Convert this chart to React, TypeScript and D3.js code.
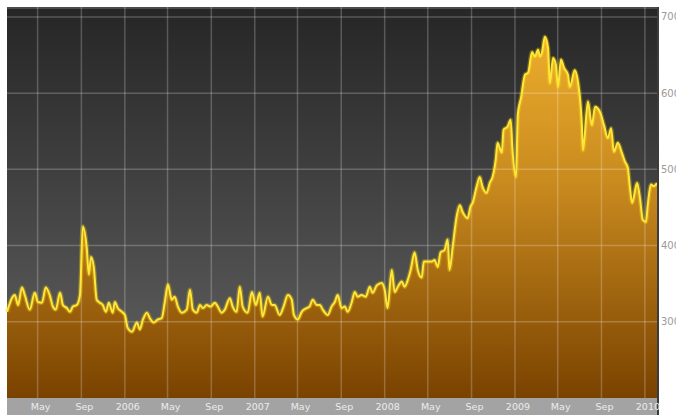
import React from "react";
import * as d3 from "d3";

// weekly-ish readings, Feb 2005 - Feb 2010
const dates = [
  "2005-02-04", "2005-02-26", "2005-03-07", "2005-03-18", "2005-03-26", "2005-04-09", "2005-04-23", "2005-05-02",
  "2005-05-13", "2005-05-24", "2005-06-04", "2005-06-13", "2005-06-21", "2005-07-03", "2005-07-11", "2005-07-22",
  "2005-07-31", "2005-08-08", "2005-08-19", "2005-08-28", "2005-09-05", "2005-09-16", "2005-09-22", "2005-09-28",
  "2005-10-06", "2005-10-14", "2005-10-23", "2005-10-31", "2005-11-09", "2005-11-17", "2005-11-28", "2005-12-04",
  "2005-12-12", "2005-12-24",
  "2006-01-01", "2006-01-09", "2006-01-21", "2006-02-04", "2006-02-12", "2006-02-21", "2006-03-04", "2006-03-12",
  "2006-03-23", "2006-04-04", "2006-04-15", "2006-04-23", "2006-05-02", "2006-05-13", "2006-05-21", "2006-05-30",
  "2006-06-10", "2006-06-24", "2006-07-03", "2006-07-11", "2006-07-22", "2006-07-31", "2006-08-08", "2006-08-19",
  "2006-08-30", "2006-09-11", "2006-09-19", "2006-09-30", "2006-10-09", "2006-10-23", "2006-10-31", "2006-11-11",
  "2006-11-20", "2006-11-28", "2006-12-12", "2006-12-24",
  "2007-01-04", "2007-01-15", "2007-01-23", "2007-02-07", "2007-02-18", "2007-02-26", "2007-03-12", "2007-03-23",
  "2007-04-04", "2007-04-15", "2007-04-21", "2007-05-02", "2007-05-13", "2007-05-27", "2007-06-04", "2007-06-13",
  "2007-06-24", "2007-07-03", "2007-07-11", "2007-07-25", "2007-08-05", "2007-08-14", "2007-08-22", "2007-09-02",
  "2007-09-11", "2007-09-19", "2007-09-30", "2007-10-09", "2007-10-17", "2007-10-28", "2007-11-09", "2007-11-20",
  "2007-11-28", "2007-12-10", "2007-12-24",
  "2008-01-01", "2008-01-09", "2008-01-21", "2008-01-29", "2008-02-07", "2008-02-18", "2008-02-26", "2008-03-06",
  "2008-03-14", "2008-03-25", "2008-04-03", "2008-04-14", "2008-04-20", "2008-05-01", "2008-05-12", "2008-05-20",
  "2008-05-29", "2008-06-06", "2008-06-17", "2008-06-26", "2008-07-01", "2008-07-10", "2008-07-21", "2008-07-30",
  "2008-08-07", "2008-08-21", "2008-08-29", "2008-09-04", "2008-09-15", "2008-09-24", "2008-10-02", "2008-10-13",
  "2008-10-22", "2008-10-30", "2008-11-08", "2008-11-13", "2008-11-25", "2008-11-30", "2008-12-11", "2008-12-20",
  "2008-12-25",
  "2009-01-04", "2009-01-09", "2009-01-18", "2009-01-29", "2009-02-07", "2009-02-18", "2009-02-26", "2009-03-07",
  "2009-03-12", "2009-03-18", "2009-03-26", "2009-04-04", "2009-04-09", "2009-04-18", "2009-04-26", "2009-05-02",
  "2009-05-10", "2009-05-19", "2009-05-30", "2009-06-04", "2009-06-18", "2009-06-27", "2009-07-08", "2009-07-11",
  "2009-07-25", "2009-08-05", "2009-08-14", "2009-08-28", "2009-09-08", "2009-09-19", "2009-09-28", "2009-10-06",
  "2009-10-17", "2009-10-28", "2009-11-06", "2009-11-14", "2009-11-20", "2009-11-26", "2009-12-10", "2009-12-18",
  "2009-12-26",
  "2010-01-04", "2010-01-09", "2010-01-18", "2010-01-26", "2010-02-04",
];

const prices = [
  313, 335, 322, 345, 335, 316, 338, 326, 325, 345, 335, 320, 316, 338, 322, 318,
  313, 320, 322, 335, 425, 397, 362, 385, 371, 329, 325, 322, 313, 325, 312, 326,
  318, 313,
  309, 292, 287, 299, 290, 303, 312, 305, 299, 303, 305, 325, 349, 329, 333, 320,
  312, 316, 342, 316, 312, 322, 318, 322, 320, 325, 320, 312, 316, 331, 320, 313,
  346, 320, 312, 339,
  322, 338, 307, 333, 322, 322, 309, 320, 335, 329, 309, 303, 313, 318, 320, 329,
  322, 322, 316, 309, 320, 326, 335, 318, 320, 313, 325, 339, 333, 335, 333, 346,
  338, 348, 351,
  342, 318, 368, 339, 346, 353, 346, 355, 368, 391, 368, 358, 379, 379, 379, 381,
  372, 391, 394, 408, 368, 398, 438, 453, 444, 436, 451, 456, 477, 490, 477, 469,
  482, 490, 513, 535, 522, 552, 556, 565, 526,
  490, 572, 594, 624, 627, 654, 648, 657, 648, 654, 674, 659, 613, 646, 637, 608,
  644, 633, 624, 608, 630, 615, 558, 525, 589, 558, 582, 575, 558, 541, 554, 523,
  535, 522, 510, 502, 476, 456, 482, 463, 434,
  431, 453, 480, 478, 482,
];

const priceTicks = [300, 400, 500, 600, 700];
const dateRange = ["2005-02-04", "2010-02-04"];
const priceRange = [200, 713];

const W = 676;
const H = 415;
const left = 7;
const right = 658;
const top = 7;
const bottom = 398;

export default function App() {
  const parse = d3.timeParse("%Y-%m-%d");
  const data = dates.map((d, i) => ({ date: parse(d) as Date, value: prices[i] }));

  const x = d3
    .scaleTime()
    .domain(dateRange.map(d => parse(d) as Date))
    .range([left, right - 1]);
  const y = d3.scaleLinear().domain(priceRange).range([bottom, top]);

  const area = d3
    .area<{ date: Date; value: number }>()
    .x(d => x(d.date))
    .y0(bottom)
    .y1(d => y(d.value))
    .curve(d3.curveMonotoneX);
  const line = d3
    .line<{ date: Date; value: number }>()
    .x(d => x(d.date))
    .y(d => y(d.value))
    .curve(d3.curveMonotoneX);

  const monthTicks = x.ticks(d3.timeMonth.every(4) as d3.TimeInterval);
  const fmt = (d: Date) => (d.getMonth() === 0 ? d3.timeFormat("%Y")(d) : d3.timeFormat("%b")(d));

  return (
    <svg
      width={W}
      height={H}
      style={{ position: "absolute", left: 0, top: 0, background: "#fff" }}
      fontFamily="DejaVu Sans, sans-serif"
    >
      <defs>
        <linearGradient id="bg" gradientUnits="userSpaceOnUse" x1="0" y1={top} x2="0" y2={bottom}>
          <stop offset="0" stopColor="#262626" />
          <stop offset="1" stopColor="#626262" />
        </linearGradient>
        <linearGradient id="fill" gradientUnits="userSpaceOnUse" x1="0" y1={top} x2="0" y2={bottom}>
          <stop offset="0" stopColor="#f2b32f" />
          <stop offset="0.45" stopColor="#c98a1f" />
          <stop offset="1" stopColor="#7a4200" />
        </linearGradient>
      </defs>

      <rect x={left} y={top} width={right - left} height={bottom - top} fill="url(#bg)" />
      <line x1={left} x2={right} y1={top + 1} y2={top + 1} stroke="#5a5a5a" strokeWidth={1.5} />

      <path d={area(data) || ""} fill="url(#fill)" />

      {/* grid */}
      <g stroke="#ffffff" strokeOpacity={0.22} strokeWidth={1.5}>
        {priceTicks.map(v => (
          <line key={v} x1={left} x2={right} y1={y(v)} y2={y(v)} />
        ))}
        {monthTicks.map(t => (
          <line key={+t} x1={x(t)} x2={x(t)} y1={top} y2={bottom} />
        ))}
      </g>

      <path d={line(data) || ""} fill="none" stroke="#ffe000" strokeOpacity={0.3} strokeWidth={4.5} />
      <path d={line(data) || ""} fill="none" stroke="#ffe53c" strokeWidth={2} strokeLinejoin="round" />

      {/* x axis band */}
      <rect x={left} y={bottom} width={right - left} height={H - bottom} fill="#a3a3a3" />
      <rect x={right - 1} y={top} width={2} height={H - top} fill="#3c3c3c" />
      {monthTicks.map(t => (
        <text key={+t} x={x(t) + 3} y={410} fontSize={9.5} fill="#ececec" textAnchor="middle">
          {fmt(t)}
        </text>
      ))}

      {/* right axis */}
      {priceTicks.map(v => (
        <text key={v} x={661} y={y(v) + 3.5} fontSize={10} fill="#9a9a9a">
          {v}
        </text>
      ))}
    </svg>
  );
}
